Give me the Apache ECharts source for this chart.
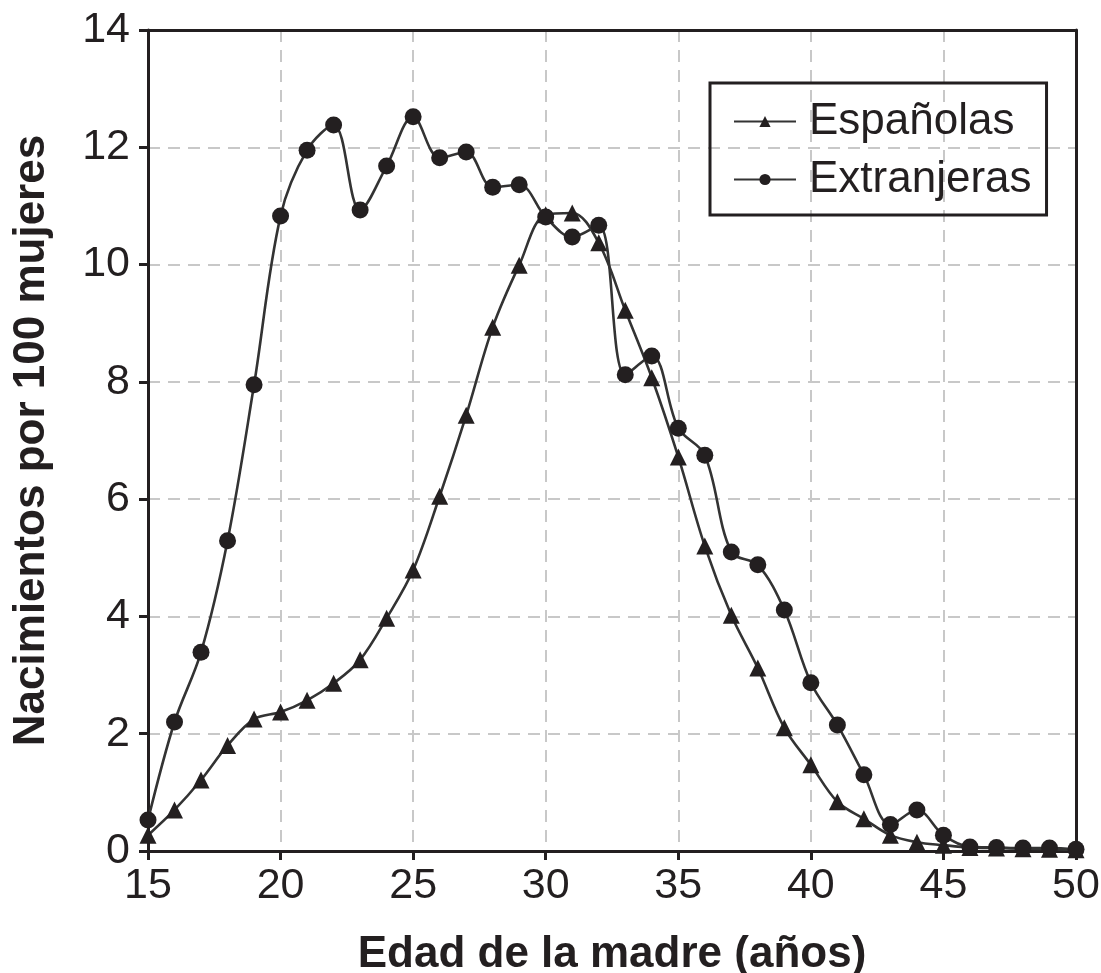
<!DOCTYPE html>
<html>
<head>
<meta charset="utf-8">
<script src="https://cdn.jsdelivr.net/npm/echarts@6/dist/echarts.min.js"></script>
<style>html,body{margin:0;padding:0;background:#fff}#c{width:1101px;height:973px}</style>
</head>
<body>
<div id="c"></div>
<script>
const ages = [15,16,17,18,19,20,21,22,23,24,25,26,27,28,29,30,31,32,33,34,35,36,37,38,39,40,41,42,43,44,45,46,47,48,49,50];
const espanolas = [0.27,0.7,1.21,1.8,2.25,2.37,2.57,2.86,3.26,3.97,4.79,6.05,7.43,8.93,9.99,10.85,10.88,10.37,9.22,8.07,6.72,5.2,4.02,3.12,2.1,1.47,0.84,0.55,0.27,0.15,0.1,0.06,0.05,0.04,0.03,0.02];
const extranjeras = [0.53,2.2,3.39,5.29,7.95,10.83,11.95,12.38,10.93,11.68,12.52,11.82,11.92,11.32,11.36,10.81,10.47,10.67,8.12,8.44,7.21,6.75,5.1,4.88,4.11,2.87,2.15,1.3,0.45,0.7,0.27,0.07,0.06,0.05,0.05,0.03];
const seriesNames = ['Españolas','Extranjeras'];
const xTitle = 'Edad de la madre (años)';
const yTitle = 'Nacimientos por 100 mujeres';

const FONT = 'Liberation Sans, Arial, sans-serif';
const INK = '#231f20';
const pairs = (ys) => ages.map((a, i) => [a, ys[i]]);
const gridLine = {show: true, lineStyle: {color: '#c8c8c8', width: 2, type: [12, 8]}};
const boxAxis = {
  axisLine: {show: true, onZero: false, lineStyle: {color: INK, width: 3}},
  axisTick: {show: false}, axisLabel: {show: false}, splitLine: {show: false}
};

const chart = echarts.init(document.getElementById('c'), null, {renderer: 'canvas'});
chart.setOption({
  animation: false,
  backgroundColor: '#fff',
  grid: {left: 148, right: 25, top: 30, bottom: 122, containLabel: false, outerBoundsMode: 'none'},
  legend: {
    orient: 'vertical', left: 710, top: 83,
    padding: [16, 15, 13, 23],
    itemWidth: 62, itemHeight: 14, itemGap: 13,
    borderColor: INK, borderWidth: 3,
    textStyle: {fontFamily: FONT, fontSize: 44, color: INK, lineHeight: 45, padding: [0, 0, 0, 8]},
    data: seriesNames
  },
  xAxis: [{
    type: 'value', min: 15, max: 50, interval: 5,
    name: xTitle, nameLocation: 'middle', nameGap: 82,
    nameTextStyle: {fontFamily: FONT, fontSize: 44, fontWeight: 'bold', color: INK},
    axisLine: {show: true, onZero: false, lineStyle: {color: INK, width: 3}},
    axisTick: {show: true, inside: false, length: 9, lineStyle: {color: INK, width: 3}},
    axisLabel: {fontFamily: FONT, fontSize: 43, color: INK, margin: 14},
    splitLine: gridLine
  }, Object.assign({type: 'value', min: 15, max: 50, interval: 5, position: 'top'}, boxAxis)],
  yAxis: [{
    type: 'value', min: 0, max: 14, interval: 2,
    name: yTitle, nameLocation: 'middle', nameGap: 94,
    nameTextStyle: {fontFamily: FONT, fontSize: 44, fontWeight: 'bold', color: INK},
    axisLine: {show: true, onZero: false, lineStyle: {color: INK, width: 3}},
    axisTick: {show: true, inside: false, length: 9, lineStyle: {color: INK, width: 3}},
    axisLabel: {fontFamily: FONT, fontSize: 43, color: INK, margin: 18},
    splitLine: gridLine
  }, Object.assign({type: 'value', min: 0, max: 14, interval: 2, position: 'right'}, boxAxis)],
  series: [
    {
      name: seriesNames[0], type: 'line', data: pairs(espanolas), smooth: 0.35,
      symbol: 'triangle', symbolSize: 17,
      lineStyle: {color: '#333', width: 2.6},
      itemStyle: {color: INK, borderWidth: 0}
    },
    {
      name: seriesNames[1], type: 'line', data: pairs(extranjeras), smooth: 0.35,
      symbol: 'circle', symbolSize: 17,
      lineStyle: {color: '#333', width: 2.6},
      itemStyle: {color: INK, borderWidth: 0}
    }
  ]
});
</script>
</body>
</html>
